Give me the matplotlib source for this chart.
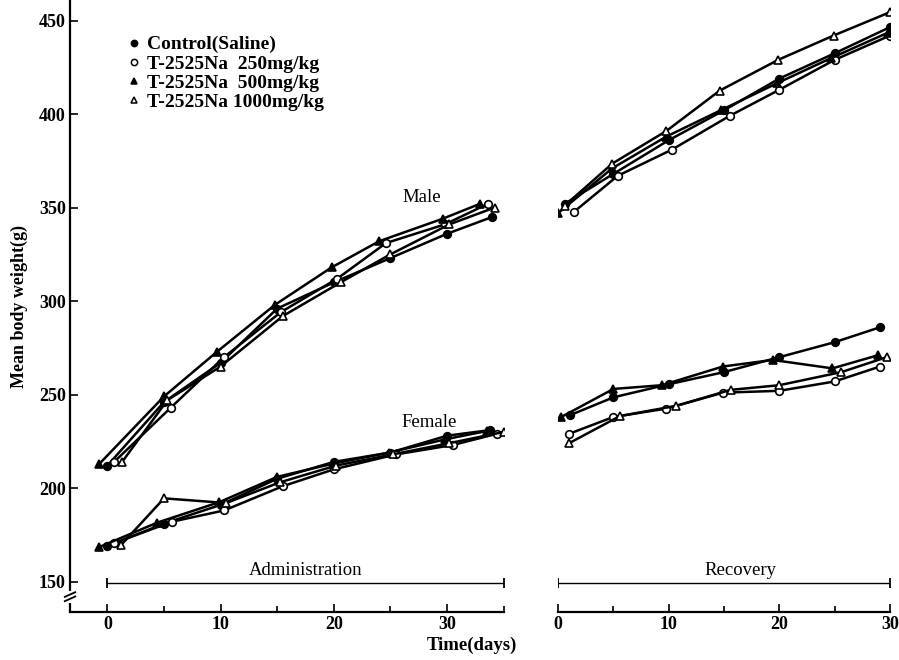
import numpy as np
import matplotlib
matplotlib.use("Agg")
import matplotlib.pyplot as plt
from matplotlib.lines import Line2D

plt.rcParams['font.family'] = ['Liberation Serif', 'DejaVu Serif']

# ---- data ----
groups = ['Control(Saline)', 'T-2525Na  250mg/kg', 'T-2525Na  500mg/kg', 'T-2525Na 1000mg/kg']
markers = ['o', 'o', '^', '^']
faces = ['black', 'white', 'black', 'white']

# administration period
male_adm_days = [
    [0, 5, 10, 15, 20, 25, 30, 34],
    [0.6, 5.6, 10.3, 15.3, 20.3, 24.6, 29.8, 33.6],
    [-0.7, 5, 9.7, 14.8, 19.8, 24, 29.6, 32.9],
    [1.3, 5.3, 10, 15.5, 20.6, 25, 30.2, 34.2],
]
male_adm_wt = [
    [212, 246, 267, 296, 310, 323, 336, 345],
    [214, 243, 270, 294, 312, 331, 341, 352],
    [213, 249, 273, 298, 318, 332, 344, 352],
    [214, 247, 265, 292, 310, 325, 341, 350],
]
female_adm_days = [
    [0, 5, 10, 15, 20, 25, 30, 33.8],
    [0.6, 5.7, 10.3, 15.5, 20, 25.5, 30.5, 34.4],
    [-0.7, 4.4, 9.9, 15, 19.9, 24.9, 29.8, 33.5],
    [1.2, 5, 10.5, 15.2, 20.2, 25.2, 30.2, 35],
]
female_adm_wt = [
    [169, 181, 191, 205, 214, 219, 228, 231],
    [170.5, 182, 188, 201, 210, 218, 223, 229],
    [168.5, 181.5, 192.5, 206, 213, 219, 226, 230.5],
    [169.5, 194.5, 192, 203, 212, 218, 224, 230],
]

# recovery period
male_rec_days = [
    [0.6, 5, 10, 15, 20, 25, 30],
    [1.4, 5.4, 10.3, 15.5, 20, 25, 30],
    [0, 4.9, 9.8, 14.7, 19.8, 24.7, 29.8],
    [0.6, 4.9, 9.8, 14.6, 19.9, 24.9, 30],
]
male_rec_wt = [
    [352, 368, 386, 402, 419, 432.5, 446.5],
    [347.5, 367, 381, 399, 413, 429, 442],
    [347, 371, 388, 402, 416.5, 430, 443.5],
    [351, 373.5, 391, 412.5, 429, 442, 454.5],
]
female_rec_days = [
    [1.1, 5, 10, 15, 20, 25, 29.1],
    [1, 5, 9.8, 14.9, 20, 25, 29.1],
    [0.3, 5, 9.4, 14.9, 19.4, 24.8, 28.9],
    [1, 5.6, 10.7, 15.6, 20, 25.6, 29.7],
]
female_rec_wt = [
    [239, 248.5, 255.5, 262, 270, 278, 286],
    [229, 238, 242.5, 251, 252, 257, 265],
    [238, 253, 255, 265, 268.5, 264, 271],
    [224, 238.5, 244, 252.5, 255, 262, 270],
]

adm_span = [0, 35]
rec_span = [0, 30]
y_ticks = [150, 200, 250, 300, 350, 400, 450]

# ---- figure ----
fig = plt.figure(figsize=(8.99, 6.6), dpi=100)
ax1 = fig.add_axes([0.0779, 0.0727, 0.4824, 0.9273])
ax2 = fig.add_axes([0.6207, 0.0727, 0.3693, 0.9273], sharey=ax1)

ylo, yhi = 133.7, 461

def draw(ax, days_list, wt_list):
    for d, w, m, f in zip(days_list, wt_list, markers, faces):
        ax.plot(d, w, color='black', lw=1.8, marker=m, ms=5.5,
                mfc=f, mec='black', mew=1.2, zorder=3)

draw(ax1, male_adm_days, male_adm_wt)
draw(ax1, female_adm_days, female_adm_wt)
draw(ax2, male_rec_days, male_rec_wt)
draw(ax2, female_rec_days, female_rec_wt)

ax1.set_xlim(-3.3, 35)
ax2.set_xlim(0, 30)
ax1.set_ylim(ylo, yhi)

for ax in (ax1, ax2):
    ax.spines['top'].set_visible(False)
    ax.spines['right'].set_visible(False)
    ax.spines['bottom'].set_linewidth(1.6)
    ax.set_xticks([0, 10, 20, 30])
    ax.set_xticks([5, 15, 25], minor=True)
    ax.tick_params(axis='x', which='major', direction='in', length=6, width=1.2,
                   labelsize=13, pad=3)
    ax.tick_params(axis='x', which='minor', direction='in', length=4, width=1.2)
    for lab in ax.get_xticklabels():
        lab.set_fontweight('bold')

ax1.set_xticks([5, 15, 25, 35], minor=True)
ax1.spines['left'].set_linewidth(1.6)
ax1.set_yticks(y_ticks)
ax1.tick_params(axis='y', direction='in', length=6, width=1.2, labelsize=13, pad=3)
for lab in ax1.get_yticklabels():
    lab.set_fontweight('bold')
ax1.set_ylabel('Mean body weight(g)', fontsize=13, fontweight='bold', labelpad=8)

ax2.spines['left'].set_visible(False)
ax2.spines['bottom'].set_bounds(0, 30)
ax2.tick_params(axis='y', left=False, labelleft=False)

# axis break on the y spine
trans = ax1.get_yaxis_transform()
ax1.plot([0, 0], [139.8, 143.8], color='white', lw=3, transform=trans,
         clip_on=False, zorder=5)
ax1.plot([-0.012, 0.012], [139.5, 142.0], color='black', lw=1.3, transform=trans,
         clip_on=False, zorder=6)
ax1.plot([-0.012, 0.012], [141.8, 144.3], color='black', lw=1.3, transform=trans,
         clip_on=False, zorder=6)

# period bars
ax1.plot(adm_span, [149, 149], color='black', lw=1.0, marker='|', ms=7, mew=1.3)
ax2.plot(rec_span, [149, 149], color='black', lw=1.0, marker='|', ms=7, mew=1.3)
ax1.text(np.mean(adm_span), 151.3, 'Administration', ha='center', va='bottom', fontsize=13.5)
ax2.text(np.mean(rec_span) + 1.5, 151.3, 'Recovery', ha='center', va='bottom', fontsize=13.5)

ax1.text(27.8, 355.6, 'Male', ha='center', va='center', fontsize=13.5)
ax1.text(28.4, 235, 'Female', ha='center', va='center', fontsize=13.5)

fig.text(0.525, 0.022, 'Time(days)', ha='center', va='center', fontsize=13.5,
         fontweight='bold')

handles = [Line2D([], [], ls='none', marker=m, ms=4.5, mfc=f, mec='black', mew=1.1)
           for m, f in zip(markers, faces)]
fig.legend(handles, groups, loc='upper left', bbox_to_anchor=(117 / 899, 1 - 26 / 660),
           frameon=False, borderpad=0, handlelength=0.8, handletextpad=0.25,
           labelspacing=0.08, prop={'size': 14, 'weight': 'bold'})

fig.savefig('out.png', dpi=100)
